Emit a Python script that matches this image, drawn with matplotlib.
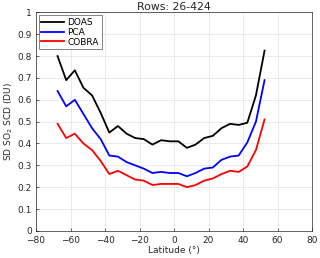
import numpy as np
import matplotlib.pyplot as plt

latitude = [-67.5, -62.5, -57.5, -52.5, -47.5, -42.5, -37.5, -32.5, -27.5, -22.5,
            -17.5, -12.5, -7.5, -2.5, 2.5, 7.5, 12.5, 17.5, 22.5, 27.5,
            32.5, 37.5, 42.5, 47.5, 52.5]
doas = [0.80, 0.69, 0.735, 0.655, 0.62, 0.54, 0.45, 0.48, 0.445, 0.425,
        0.42, 0.395, 0.415, 0.41, 0.41, 0.38, 0.395, 0.425, 0.435, 0.47,
        0.49, 0.485, 0.495, 0.62, 0.825]
pca = [0.64, 0.57, 0.60, 0.535, 0.47, 0.42, 0.345, 0.34, 0.315, 0.30,
       0.285, 0.265, 0.27, 0.265, 0.265, 0.25, 0.265, 0.285, 0.29, 0.325,
       0.34, 0.345, 0.405, 0.50, 0.69]
cobra = [0.49, 0.425, 0.445, 0.40, 0.37, 0.32, 0.26, 0.275, 0.255, 0.235,
         0.23, 0.21, 0.215, 0.215, 0.215, 0.20, 0.21, 0.23, 0.24, 0.26,
         0.275, 0.27, 0.295, 0.37, 0.51]

plt.rcParams["font.family"] = "DejaVu Sans"
plt.rcParams["font.size"] = 6.5

fig = plt.figure(figsize=(3.2, 2.58), dpi=100)
ax = fig.add_axes([0.1125, 0.105, 0.8625, 0.847])

ax.plot(latitude, doas, color="black", lw=1.3, label="DOAS")
ax.plot(latitude, pca, color="blue", lw=1.3, label="PCA")
ax.plot(latitude, cobra, color="red", lw=1.3, label="COBRA")

ax.set_xlim(-80, 80)
ax.set_ylim(0, 1)
ax.set_xticks(np.arange(-80, 81, 20))
ax.set_yticks(np.arange(0, 1.01, 0.1))
ax.set_yticklabels(["0"] + [f"{v:.1f}" for v in np.arange(0.1, 0.95, 0.1)] + ["1"])
ax.grid(True, color="#e6e6e6", lw=0.6)
ax.set_axisbelow(True)
ax.tick_params(direction="in", length=2.5, width=0.5, colors="#262626")
ax.tick_params(axis="x", pad=3.5)
ax.tick_params(axis="y", pad=3)
for s in ax.spines.values():
    s.set_color("#262626")
    s.set_linewidth(0.5)

ax.set_xlabel("Latitude (°)", labelpad=1, color="#262626")
ax.set_ylabel("SD SO$_2$ SCD (DU)", labelpad=2, color="#262626")
ax.set_title("Rows: 26-424", pad=2, color="#262626")

leg = ax.legend(loc="upper left", fontsize=6.5, handlelength=2.5, borderpad=0.3,
                labelspacing=0.1, handletextpad=0.4, fancybox=False,
                borderaxespad=0.3)
leg.get_frame().set_edgecolor("#262626")
leg.get_frame().set_linewidth(0.5)

fig.savefig("out.png", dpi=100)
